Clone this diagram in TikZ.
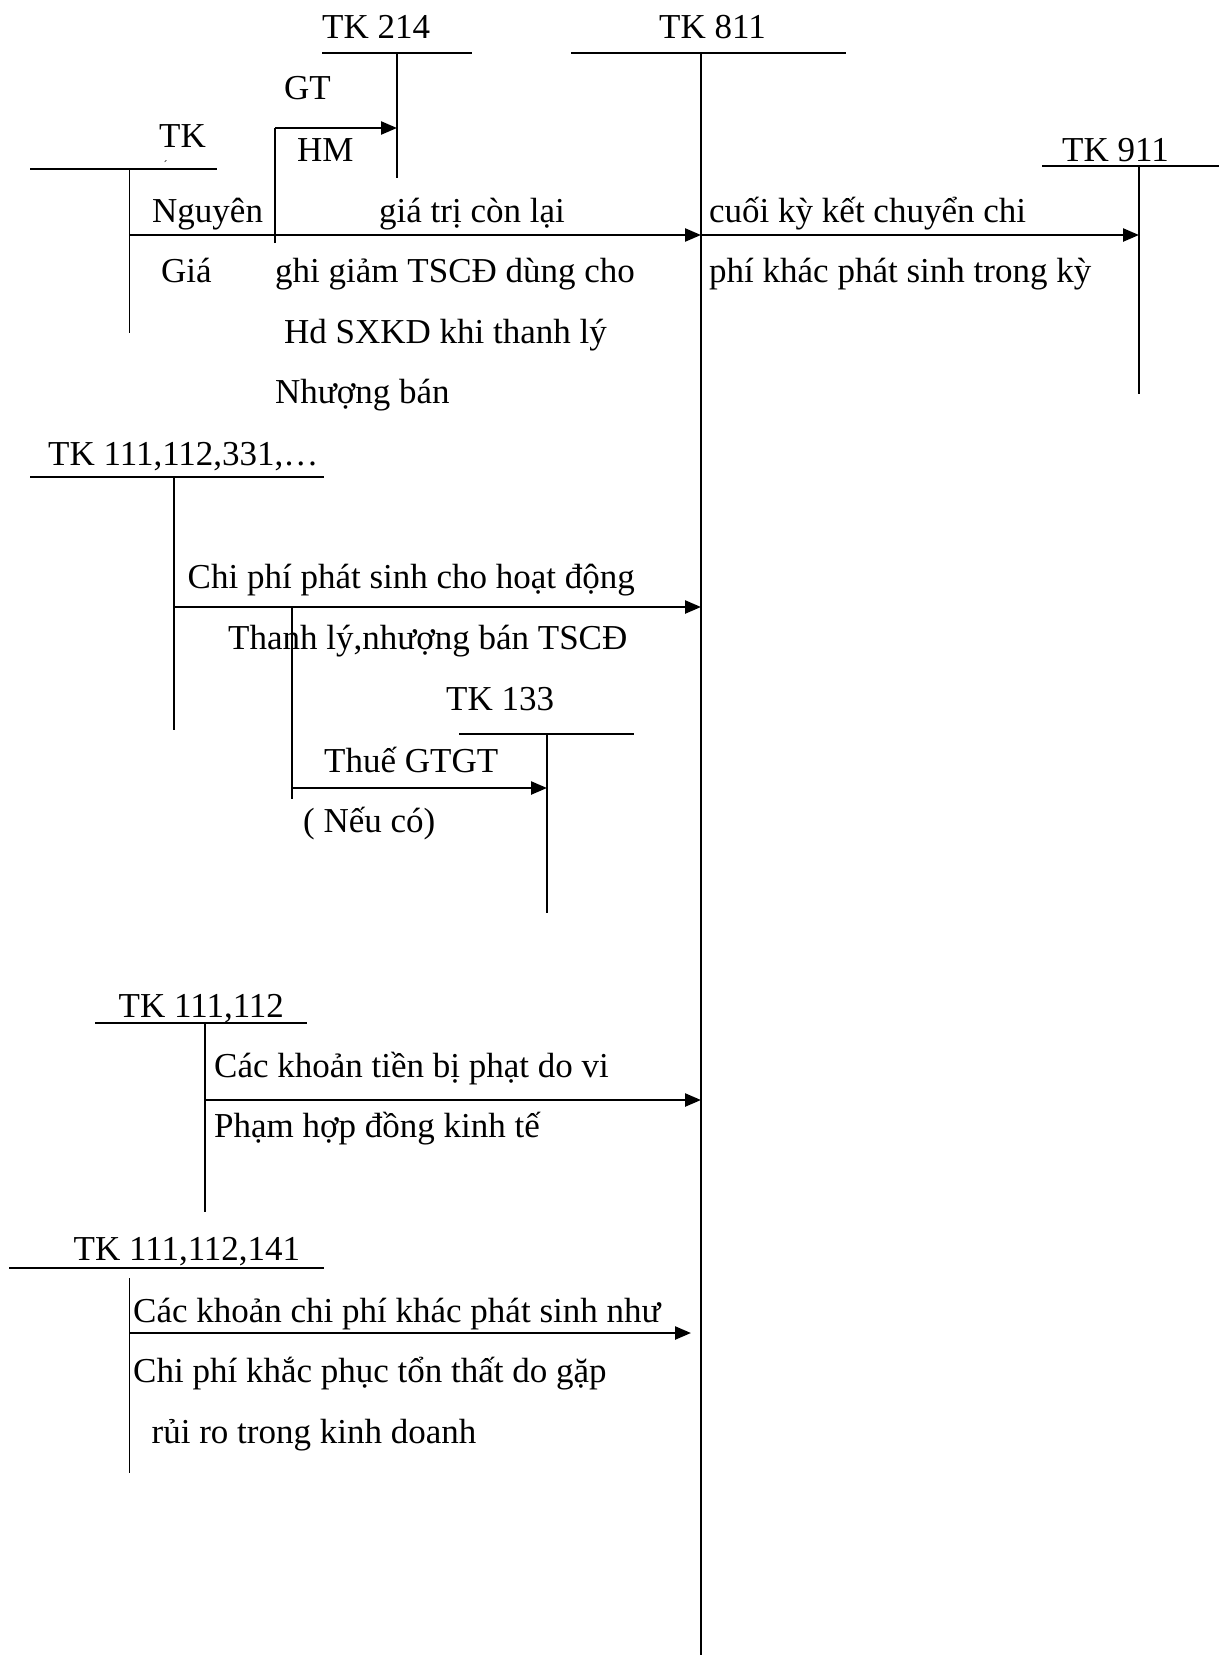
\documentclass[tikz,border=0pt]{standalone}
\usepackage{fontspec}
\setmainfont{Liberation Serif}
\usetikzlibrary{arrows.meta}
\begin{document}
\begin{tikzpicture}[x=1pt,y=-1pt,
  lbl/.style={anchor=base west,inner sep=0pt,font=\fontsize{35}{42}\selectfont},
  tline/.style={line width=1.4pt},
  tmain/.style={line width=1.8pt},
  flow/.style={line width=2.4pt,-{Triangle[length=16pt,width=13pt]}},
]
\useasboundingbox (0,0) rectangle (1219,1655);

% ---------- T-account coordinates ----------
% TK 214
\coordinate (t214l) at (322,53);  \coordinate (t214r) at (472,53);
\coordinate (t214t) at (397,53);  \coordinate (t214b) at (397,178);
% TK 811
\coordinate (t811l) at (571,53);  \coordinate (t811r) at (846,53);
\coordinate (t811t) at (701,53);  \coordinate (t811b) at (701,1655);
% TK (left, 211)
\coordinate (t211l) at (30,169);  \coordinate (t211r) at (217,169);
\coordinate (t211t) at (129.5,169); \coordinate (t211b) at (129.5,333);
% TK 911
\coordinate (t911l) at (1042,166); \coordinate (t911r) at (1219,166);
\coordinate (t911t) at (1139,166); \coordinate (t911b) at (1139,394);
% TK 111,112,331
\coordinate (t331l) at (30,477);  \coordinate (t331r) at (324,477);
\coordinate (t331t) at (174,477); \coordinate (t331b) at (174,730);
% TK 133
\coordinate (t133l) at (459,734); \coordinate (t133r) at (634,734);
\coordinate (t133t) at (547,734); \coordinate (t133b) at (547,913);
% TK 111,112
\coordinate (t112l) at (95,1023); \coordinate (t112r) at (307,1023);
\coordinate (t112t) at (205,1023); \coordinate (t112b) at (205,1212);
% TK 111,112,141
\coordinate (t141l) at (9,1268);  \coordinate (t141r) at (324,1268);
\coordinate (t141t) at (129.5,1278); \coordinate (t141b) at (129.5,1473);

% ---------- T-accounts ----------
\draw[tline] (t214l) -- (t214r);  \draw[tline] (t214t) -- (t214b);
\draw[tline] (t811l) -- (t811r);  \draw[tmain] (t811t) -- (t811b);
\draw[tline] (t211l) -- (t211r);  \draw[tline] (t211t) -- (t211b);
\draw[tline] (t911l) -- (t911r);  \draw[tline] (t911t) -- (t911b);
\draw[tline] (t331l) -- (t331r);  \draw[tline] (t331t) -- (t331b);
\draw[tline] (t133l) -- (t133r);  \draw[tline] (t133t) -- (t133b);
\draw[tline] (t112l) -- (t112r);  \draw[tline] (t112t) -- (t112b);
\draw[tline] (t141l) -- (t141r);  \draw[tline] (t141t) -- (t141b);

% ---------- flow coordinates ----------
\coordinate (f1s) at (129.5,235); \coordinate (f1e) at (701,235);
\coordinate (f2b) at (275,243);   \coordinate (f2c) at (275,128); \coordinate (f2e) at (397,128);
\coordinate (f3e) at (1139,235);
\coordinate (f4s) at (174,607);   \coordinate (f4e) at (701,607);
\coordinate (f5t) at (292,607);   \coordinate (f5b) at (292,799);
\coordinate (f5s) at (292,788);   \coordinate (f5e) at (547,788);
\coordinate (f6s) at (205,1100);  \coordinate (f6e) at (701,1100);
\coordinate (f7s) at (129.5,1333); \coordinate (f7e) at (691,1333);

% ---------- flows ----------
\draw[flow] (f1s) -- (f1e);
\draw[line width=1.4pt] (f2b) -- (f2c);
\draw[flow] (f2c) -- (f2e);
\draw[flow] (f1e) -- (f3e);
\draw[flow] (f4s) -- (f4e);
\draw[tline] (f5t) -- (f5b);
\draw[flow] (f5s) -- (f5e);
\draw[flow] (f6s) -- (f6e);
\draw[flow] (f7s) -- (f7e);

% ---------- labels ----------
\node[lbl] (n214) at (322,38) {TK 214};
\node[lbl] (n811) at (659,38) {TK 811};
\node[lbl] (ngt) at (284,99) {GT};
\node[lbl] (nhm) at (297,161) {HM};
\node[lbl] (n211) at (159,147) {TK};
\node[anchor=base west,inner sep=0pt,font=\fontsize{12}{12}\selectfont] (nacc) at (164,171) {\'{}};
\node[lbl] (n911) at (1062,161) {TK 911};
\node[lbl] (nng) at (152,222) {Nguyên};
\node[lbl] (ngtcl) at (379,222) {giá trị còn lại};
\node[lbl] (nck1) at (709,222) {cuối kỳ kết chuyển chi};
\node[lbl] (ngia) at (161,282) {Giá};
\node[lbl] (ngg1) at (275,282) {ghi giảm TSCĐ dùng cho};
\node[lbl] (nck2) at (709,282) {phí khác phát sinh trong kỳ};
\node[lbl] (ngg2) at (284,343) {Hd SXKD khi thanh lý};
\node[lbl] (ngg3) at (275,403) {Nhượng bán};
\node[lbl] (n331) at (48,465) {TK 111,112,331,…};
\node[lbl] (ncp1) at (187.5,588) {Chi phí phát sinh cho hoạt động};
\node[lbl] (ncp2) at (228,649) {Thanh lý,nhượng bán TSCĐ};
\node[lbl] (n133) at (446,710) {TK 133};
\node[lbl] (nthue) at (324,772) {Thuế GTGT};
\node[lbl] (nneu) at (303,832) {( Nếu có)};
\node[lbl] (n112) at (118.5,1017) {TK 111,112};
\node[lbl] (nph1) at (214,1077) {Các khoản tiền bị phạt do vi};
\node[lbl] (nph2) at (214,1137) {Phạm hợp đồng kinh tế};
\node[lbl] (n141) at (73.5,1260) {TK 111,112,141};
\node[lbl] (nk1) at (133,1322) {Các khoản chi phí khác phát sinh như};
\node[lbl] (nk2) at (133,1382) {Chi phí khắc phục tổn thất do gặp};
\node[lbl] (nk3) at (151.5,1443) {rủi ro trong kinh doanh};
\end{tikzpicture}
\end{document}
